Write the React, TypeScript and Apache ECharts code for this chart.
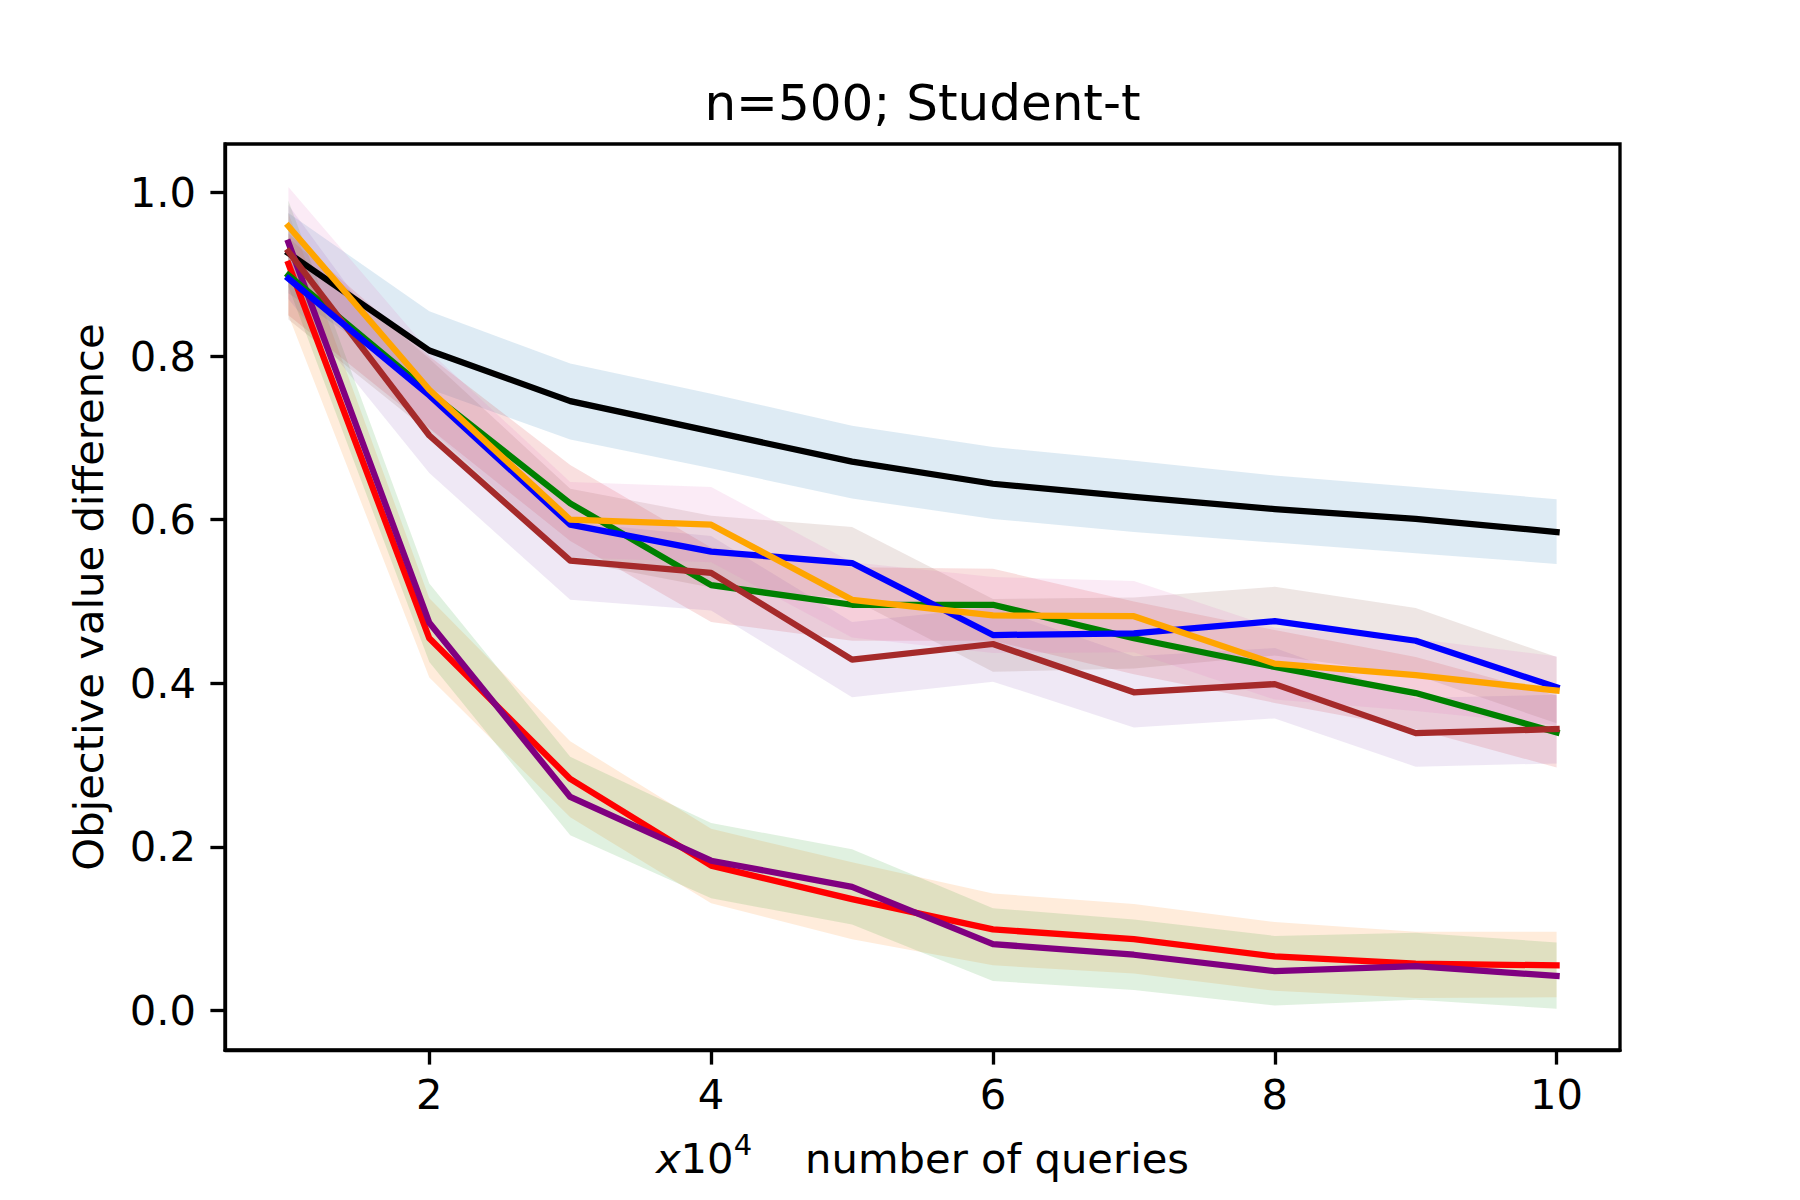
import React, { useEffect, useRef } from "react";
import * as echarts from "echarts";

// x positions (x10^4 queries)
const xValues = [1, 2, 3, 4, 5, 6, 7, 8, 9, 10];
const xTicks = [2, 4, 6, 8, 10];
const yTicks = [0, 0.2, 0.4, 0.6, 0.8, 1.0];

// mean curves
const blackMean = [0.926, 0.807, 0.745, 0.708, 0.671, 0.644, 0.628, 0.613, 0.601, 0.585];
const redMean = [0.913, 0.455, 0.283, 0.177, 0.136, 0.099, 0.087, 0.066, 0.057, 0.055];
const purpleMean = [0.939, 0.474, 0.261, 0.183, 0.151, 0.081, 0.068, 0.048, 0.054, 0.042];
const greenMean = [0.899, 0.756, 0.62, 0.52, 0.496, 0.496, 0.455, 0.42, 0.388, 0.34];
const brownMean = [0.928, 0.703, 0.55, 0.535, 0.429, 0.448, 0.389, 0.399, 0.339, 0.344];
const blueMean = [0.895, 0.752, 0.594, 0.561, 0.547, 0.459, 0.461, 0.476, 0.452, 0.395];
const orangeMean = [0.959, 0.759, 0.6, 0.594, 0.502, 0.483, 0.482, 0.424, 0.41, 0.391];

// band upper edges
const blackUpper = [0.975, 0.855, 0.791, 0.754, 0.715, 0.689, 0.672, 0.654, 0.64, 0.625];
const redUpper = [0.975, 0.504, 0.329, 0.222, 0.181, 0.143, 0.13, 0.108, 0.096, 0.096];
const purpleUpper = [0.99, 0.522, 0.31, 0.229, 0.197, 0.125, 0.111, 0.091, 0.095, 0.083];
const greenUpper = [0.95, 0.8, 0.667, 0.566, 0.542, 0.54, 0.5, 0.465, 0.432, 0.385];
const brownUpper = [0.985, 0.75, 0.597, 0.58, 0.475, 0.493, 0.433, 0.443, 0.382, 0.386];
const blueUpper = [0.945, 0.797, 0.638, 0.605, 0.591, 0.503, 0.505, 0.518, 0.492, 0.432];
const orangeUpper = [1.007, 0.806, 0.646, 0.64, 0.548, 0.53, 0.525, 0.468, 0.454, 0.433];

// band lower edges
const blackLower = [0.877, 0.76, 0.698, 0.663, 0.626, 0.601, 0.585, 0.572, 0.559, 0.546];
const redLower = [0.85, 0.407, 0.236, 0.131, 0.087, 0.055, 0.045, 0.024, 0.015, 0.016];
const purpleLower = [0.885, 0.426, 0.214, 0.137, 0.105, 0.036, 0.025, 0.006, 0.013, 0.002];
const greenLower = [0.85, 0.712, 0.574, 0.475, 0.452, 0.452, 0.411, 0.376, 0.344, 0.297];
const brownLower = [0.87, 0.657, 0.502, 0.489, 0.383, 0.402, 0.346, 0.357, 0.298, 0.302];
const blueLower = [0.845, 0.707, 0.55, 0.517, 0.503, 0.414, 0.418, 0.434, 0.41, 0.351];
const orangeLower = [0.911, 0.712, 0.554, 0.548, 0.456, 0.437, 0.438, 0.38, 0.366, 0.349];

const lineNames = ["black", "red", "purple", "green", "brown", "blue", "orange"];
const lineColors = ["#000000", "#ff0000", "#800080", "#008000", "#a52a2a", "#0000ff", "#ffa500"];
const bandColors = ["#1f77b4", "#ff7f0e", "#2ca02c", "#d62728", "#9467bd", "#8c564b", "#e377c2"];
const means = [blackMean, redMean, purpleMean, greenMean, brownMean, blueMean, orangeMean];
const uppers = [blackUpper, redUpper, purpleUpper, greenUpper, brownUpper, blueUpper, orangeUpper];
const lowers = [blackLower, redLower, purpleLower, greenLower, brownLower, blueLower, orangeLower];

const FONT = "DejaVu Sans";

function bandRenderer(color: string) {
  return (params: any, api: any) => {
    if (params.dataIndexInside !== 0) return null;
    const n = params.dataInsideLength;
    const top: number[][] = [];
    const bottom: number[][] = [];
    for (let j = 0; j < n; j++) {
      const x = api.value(0, j);
      top.push(api.coord([x, api.value(2, j)]));
      bottom.push(api.coord([x, api.value(1, j)]));
    }
    const points = top.concat(bottom.reverse());
    return {
      type: "polygon",
      shape: { points },
      style: { fill: color, opacity: 0.15, stroke: "none" },
      silent: true,
    };
  };
}

function buildSeries() {
  const series: any[] = [];
  lineNames.forEach((name, i) => {
    series.push({
      type: "line",
      name,
      data: xValues.map((x, k) => [x, means[i][k]]),
      symbol: "none",
      showSymbol: false,
      silent: true,
      lineStyle: { color: lineColors[i], width: 6.25, cap: "square", join: "round" },
    });
    series.push({
      type: "custom",
      name: name + "-band",
      data: xValues.map((x, k) => [x, lowers[i][k], uppers[i][k]]),
      encode: { x: 0, y: [1, 2] },
      renderItem: bandRenderer(bandColors[i]),
      silent: true,
      clip: true,
    });
  });
  return series;
}

export default function App() {
  const ref = useRef<HTMLDivElement>(null);
  useEffect(() => {
    if (!ref.current) return;
    const chart = echarts.init(ref.current, undefined, { renderer: "svg" });
    const tickStyle = { show: true, inside: false, length: 14.6, lineStyle: { color: "#000", width: 3.33 } };
    const lineStyle = { show: true, onZero: false, lineStyle: { color: "#000", width: 3.33 } };
    chart.setOption({
      animation: false,
      backgroundColor: "#ffffff",
      grid: {
        left: 225,
        right: 180,
        top: 144,
        bottom: 150,
        show: true,
        borderColor: "#000",
        borderWidth: 3.33,
        backgroundColor: "rgba(0,0,0,0)",
      },
      xAxis: {
        type: "value",
        min: 0.55,
        max: 10.45,
        splitLine: { show: false },
        axisLine: lineStyle,
        axisTick: { ...tickStyle, customValues: xTicks },
        axisLabel: {
          customValues: xTicks,
          formatter: (v: number) => String(Math.round(v)),
          fontFamily: FONT,
          fontSize: 41.7,
          color: "#000",
          margin: 23.5,
        },
      },
      yAxis: {
        type: "value",
        min: -0.0485,
        max: 1.0595,
        splitLine: { show: false },
        axisLine: lineStyle,
        axisTick: { ...tickStyle, customValues: yTicks },
        axisLabel: {
          customValues: yTicks,
          formatter: (v: number) => v.toFixed(1),
          fontFamily: FONT,
          fontSize: 41.7,
          color: "#000",
          margin: 29,
        },
        name: "Objective value difference",
        nameLocation: "middle",
        nameGap: 116,
        nameTextStyle: { fontFamily: FONT, fontSize: 41.7, color: "#000" },
      },
      graphic: [
        {
          type: "text",
          x: 922.5,
          y: 103,
          style: {
            text: "n=500; Student-t",
            fontFamily: FONT,
            fontSize: 50,
            fill: "#000",
            textAlign: "center",
            textVerticalAlign: "middle",
          },
        },
        {
          type: "text",
          x: 922.5,
          y: 1158,
          style: {
            text: "{it|x}{rm|10}{sup|4}{rm|    number of queries}",
            fontFamily: FONT,
            fontSize: 41.7,
            fill: "#000",
            textAlign: "center",
            textVerticalAlign: "middle",
            rich: {
              it: { fontFamily: FONT, fontStyle: "italic", fontSize: 41.7, fill: "#000", lineHeight: 56 },
              rm: { fontFamily: FONT, fontSize: 41.7, fill: "#000", lineHeight: 56 },
              sup: { fontFamily: FONT, fontSize: 29, fill: "#000", verticalAlign: "top", lineHeight: 32 },
            },
          },
        },
      ],
      series: buildSeries(),
    });
    return () => chart.dispose();
  }, []);
  return (
    <div
      ref={ref}
      style={{ position: "absolute", left: 0, top: 0, width: 1800, height: 1200, background: "#fff" }}
    />
  );
}
